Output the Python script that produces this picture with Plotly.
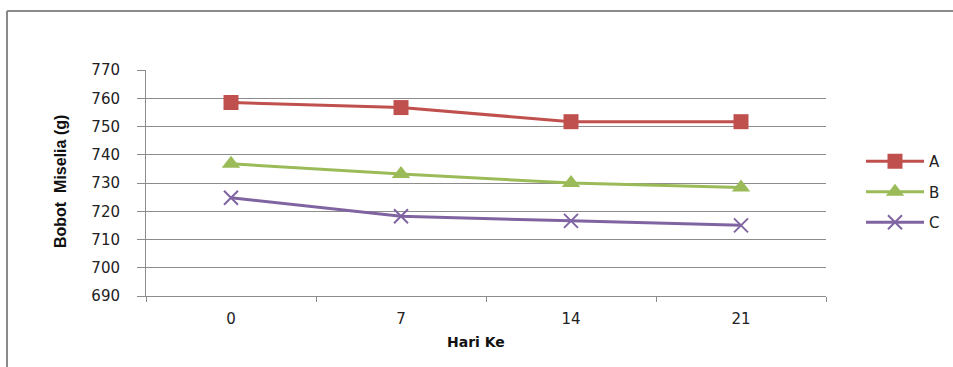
import plotly.graph_objects as go

# Hari pengamatan (kategori sumbu X)
hari = ["0", "7", "14", "21"]

# Bobot miselia (g) tiap perlakuan
bobot_a = [758.5, 756.7, 751.7, 751.7]
bobot_b = [736.8, 733.2, 730.0, 728.4]
bobot_c = [724.8, 718.2, 716.6, 715.0]

y_ticks = [690, 700, 710, 720, 730, 740, 750, 760, 770]

W, H = 953, 367
L, R, T, B = 146, 826, 70, 296  # plot area in pixels


def px_x(px):
    return (px - L) / (R - L)


def px_y(py):
    return (B - py) / (B - T)


pos = list(range(len(hari)))

series = [
    ("A", bobot_a, "#C0504D", "square", 15),
    ("B", bobot_b, "#9BBB59", "triangle-up", 16),
    ("C", bobot_c, "#8064A2", "x-thin", 14),
]

fig = go.Figure()
for name, vals, color, sym, size in series:
    marker = dict(symbol=sym, size=size, color=color)
    if sym == "x-thin":
        marker["line"] = dict(color=color, width=2)
    fig.add_trace(go.Scatter(
        x=pos, y=vals, name=name, mode="lines+markers",
        line=dict(color=color, width=3),
        marker=marker, legendgroup=name,
    ))

grid = "#8C8C8C"
tick_font = dict(family="DejaVu Sans", size=15, color="#222")

fig.update_layout(
    width=W, height=H,
    margin=dict(l=L, r=W - R, t=T, b=H - B, autoexpand=False),
    paper_bgcolor="white", plot_bgcolor="white",
    showlegend=True,
    legend=dict(
        x=px_x(861), y=px_y(145), xanchor="left", yanchor="top",
        font=dict(family="DejaVu Sans", size=15, color="#222"),
        itemwidth=58, tracegroupgap=8, bgcolor="rgba(0,0,0,0)",
    ),
    xaxis=dict(
        range=[-0.5, len(hari) - 0.5],
        tickmode="array", tickvals=pos, ticktext=hari,
        ticks="", showgrid=False, zeroline=False,
        showline=True, linecolor=grid, linewidth=1,
        tickfont=tick_font, ticklabelstandoff=9,
        minor=dict(
            tickmode="array",
            tickvals=[p - 0.5 for p in pos] + [pos[-1] + 0.5],
            ticks="outside", ticklen=5, tickcolor=grid, tickwidth=1,
            showgrid=False,
        ),
    ),
    yaxis=dict(
        range=[690, 770], tickmode="array", tickvals=y_ticks,
        ticks="outside", ticklen=8, tickcolor=grid,
        showgrid=True, gridcolor=grid, gridwidth=1,
        zeroline=False, showline=True, linecolor=grid, linewidth=1,
        tickfont=tick_font, ticklabelstandoff=14,
    ),
    shapes=[
        dict(type="line", xref="paper", yref="paper",
             x0=px_x(7), x1=px_x(953), y0=px_y(11), y1=px_y(11),
             line=dict(color="#8A8A8A", width=2)),
        dict(type="line", xref="paper", yref="paper",
             x0=px_x(7), x1=px_x(7), y0=px_y(11), y1=px_y(368),
             line=dict(color="#8A8A8A", width=2)),
    ],
    annotations=[
        dict(text="<b>Hari Ke</b>", xref="paper", yref="paper",
             x=px_x(476), y=px_y(342), xanchor="center", yanchor="middle",
             showarrow=False,
             font=dict(family="DejaVu Sans", size=14, color="#111")),
        dict(text="<b>Bobot  Miselia (g)</b>", xref="paper", yref="paper",
             x=px_x(60), y=px_y(182), xanchor="center", yanchor="middle",
             showarrow=False, textangle=-90,
             font=dict(family="Liberation Sans", size=16, color="#111")),
    ],
)

fig.write_html("out.html")
